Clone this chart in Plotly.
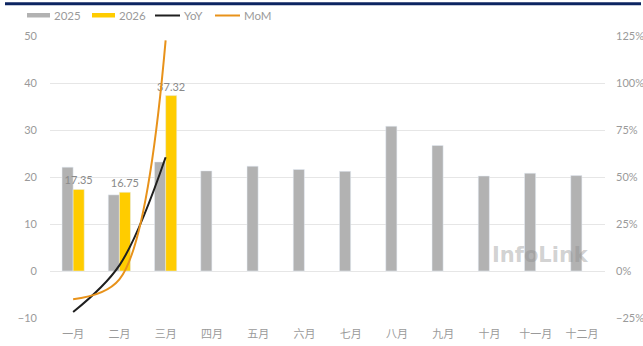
import plotly.graph_objects as go

months = ["一月", "二月", "三月", "四月", "五月", "六月", "七月", "八月", "九月", "十月", "十一月", "十二月"]
v2025 = [22.1, 16.2, 23.2, 21.3, 22.3, 21.6, 21.2, 30.8, 26.7, 20.2, 20.8, 20.3]
v2026 = [17.35, 16.75, 37.32]
yoy = [-0.218, 0.030, 0.605]
mom = [-0.150, -0.045, 1.227]

W, H = 643, 346
L, R, T, B = 50, 38, 36, 28
pw, ph = W - L - R, H - T - B

def px(x):
    return (x - L) / pw

def py(y):
    return (H - B - y) / ph

FONT = "Lato, 'Noto Sans CJK SC', sans-serif"
GRAY_TXT = "#9a9a9a"

fig = go.Figure()
fig.add_trace(go.Bar(x=months, y=v2025, name="2025", marker_color="#b2b2b2", showlegend=False))
fig.add_trace(go.Bar(x=months[:3], y=v2026, name="2026", marker_color="#ffcc00", showlegend=False,
                     text=[f"{v:.2f}" for v in v2026], textposition="outside", constraintext="none",
                     cliponaxis=False, textfont=dict(color="#8a8a8a", size=11, family=FONT)))
fig.add_trace(go.Scatter(x=months[:3], y=yoy, name="YoY", yaxis="y2", mode="lines",
                         line=dict(color="#1f1f1f", width=2, shape="spline", smoothing=1.0), showlegend=False))
fig.add_trace(go.Scatter(x=months[:3], y=mom, name="MoM", yaxis="y2", mode="lines",
                         line=dict(color="#e8921a", width=2, shape="spline", smoothing=1.0), showlegend=False))

shapes = [
    dict(type="rect", xref="paper", yref="paper", x0=px(5), x1=px(641), y0=py(5.2), y1=py(2.3),
         fillcolor="#0c2461", line=dict(width=0), layer="above"),
    dict(type="rect", xref="paper", yref="paper", x0=px(27), x1=px(50), y0=py(17.5), y1=py(13),
         fillcolor="#b2b2b2", line=dict(width=0)),
    dict(type="rect", xref="paper", yref="paper", x0=px(92), x1=px(115), y0=py(17.5), y1=py(13),
         fillcolor="#ffcc00", line=dict(width=0)),
    dict(type="line", xref="paper", yref="paper", x0=px(155), x1=px(180), y0=py(15.5), y1=py(15.5),
         line=dict(color="#1f1f1f", width=2)),
    dict(type="line", xref="paper", yref="paper", x0=px(215), x1=px(240), y0=py(15.5), y1=py(15.5),
         line=dict(color="#e8921a", width=2)),
]
annotations = []
for xpos, label in [(52, "2025"), (117, "2026"), (182, "YoY"), (242, "MoM")]:
    annotations.append(dict(xref="paper", yref="paper", x=px(xpos), y=py(15.5), text=label,
                            showarrow=False, xanchor="left", yanchor="middle",
                            font=dict(color=GRAY_TXT, size=11.5, family=FONT)))
annotations.append(dict(xref="paper", yref="paper", x=px(540), y=py(255), text="<b>InfoLink</b>",
                        showarrow=False, xanchor="center", yanchor="middle",
                        font=dict(color="rgba(140,140,140,0.4)", size=21, family="DejaVu Sans")))

fig.update_layout(
    width=W, height=H,
    margin=dict(l=L, r=R, t=T, b=B, autoexpand=False),
    paper_bgcolor="white", plot_bgcolor="white",
    barmode="group", bargap=0.52, bargroupgap=0,
    font=dict(family=FONT, color=GRAY_TXT, size=11),
    shapes=shapes, annotations=annotations,
    xaxis=dict(showgrid=False, showline=False, ticks="", tickfont=dict(size=11, color=GRAY_TXT),
               ticklabelstandoff=8, automargin=False),
    yaxis=dict(range=[-10, 50], dtick=10, showgrid=True, gridcolor="#e6e6e6", gridwidth=1,
               zeroline=False, showline=False, ticks="", ticklabelstandoff=12, automargin=False,
               tickfont=dict(size=11, color=GRAY_TXT)),
    yaxis2=dict(range=[-0.25, 1.25], dtick=0.25, tickformat=".0%", overlaying="y", side="right",
                showgrid=False, zeroline=False, showline=False, ticks="", ticklabelstandoff=10,
                automargin=False, tickfont=dict(size=11, color=GRAY_TXT)),
    showlegend=False,
)

fig.write_html("out.html", config={"displayModeBar": False},
               post_script="document.body.style.margin='0';")
